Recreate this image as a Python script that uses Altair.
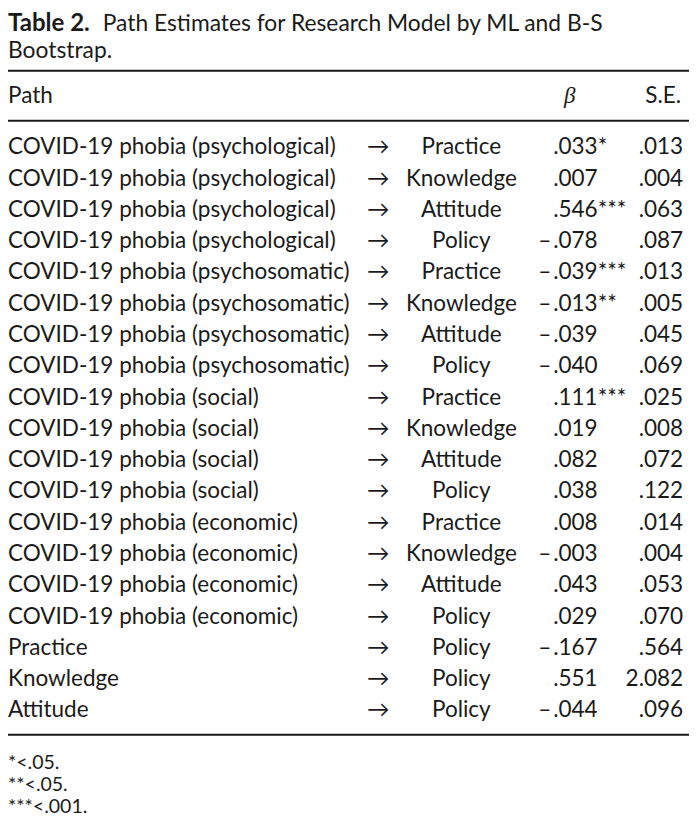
import altair as alt
import pandas as pd

# ---- data ----
sources = [
    "COVID-19 phobia (psychological)", "COVID-19 phobia (psychological)",
    "COVID-19 phobia (psychological)", "COVID-19 phobia (psychological)",
    "COVID-19 phobia (psychosomatic)", "COVID-19 phobia (psychosomatic)",
    "COVID-19 phobia (psychosomatic)", "COVID-19 phobia (psychosomatic)",
    "COVID-19 phobia (social)", "COVID-19 phobia (social)",
    "COVID-19 phobia (social)", "COVID-19 phobia (social)",
    "COVID-19 phobia (economic)", "COVID-19 phobia (economic)",
    "COVID-19 phobia (economic)", "COVID-19 phobia (economic)",
    "Practice", "Knowledge", "Attitude",
]
targets = ["Practice", "Knowledge", "Attitude", "Policy"] * 4 + ["Policy", "Policy", "Policy"]
beta_sign = ["", "", "", "–", "–", "–", "–", "–", "", "", "", "", "", "–", "", "", "–", "", "–"]
beta_abs = [".033", ".007", ".546", ".078", ".039", ".013", ".039", ".040", ".111", ".019",
            ".082", ".038", ".008", ".003", ".043", ".029", ".167", ".551", ".044"]
beta_stars = ["*", "", "***", "", "***", "**", "", "", "***", "", "", "", "", "", "", "", "", "", ""]
se = [".013", ".004", ".063", ".087", ".013", ".005", ".045", ".069", ".025", ".008",
      ".072", ".122", ".014", ".004", ".053", ".070", ".564", "2.082", ".096"]
title_bold = "Table 2."
title_rest = "Path Estimates for Research Model by ML and B-S"
title_line2 = "Bootstrap."
header = ["Path", "β", "S.E."]
footnotes = ["*<.05.", "**<.05.", "***<.001."]

# ---- layout (reference pixel space) ----
W_REF, H_REF = 697, 830
ROW0, STEP = 142, 31.9
FONT = "Lato"
FS = 22.5
INK = "#1a1a1a"

X_ARROW, X_TARGET, X_BETA, X_SE = 379, 464, 558, 691

rows = []
for i in range(len(sources)):
    y = ROW0 + i * STEP
    rows.append(dict(x=0, y=y, t=sources[i], a="left"))
    rows.append(dict(x=X_ARROW, y=y, t="→", a="center"))
    rows.append(dict(x=X_TARGET, y=y, t=targets[i], a="center"))
    rows.append(dict(x=X_BETA - 2, y=y, t=beta_sign[i], a="right"))
    rows.append(dict(x=X_BETA, y=y, t=beta_abs[i] + beta_stars[i], a="left"))
    rows.append(dict(x=X_SE, y=y, t=se[i], a="right"))
body = pd.DataFrame(rows)

xs = alt.Scale(domain=[0, W_REF])
ys = alt.Scale(domain=[0, H_REF], reverse=True)


def X(f="x"):
    return alt.X(f + ":Q", scale=xs, axis=None)


def Y(f="y"):
    return alt.Y(f + ":Q", scale=ys, axis=None)


def text_layer(df, align, **kw):
    return alt.Chart(df).mark_text(align=align, baseline="middle", font=FONT,
                                   fontSize=kw.pop("fontSize", FS), color=INK, **kw).encode(
        x=X(), y=Y(), text="t:N")


layers = []
for a in ["left", "center", "right"]:
    sub = body[body["a"] == a]
    layers.append(text_layer(sub, a))

# title
layers.append(text_layer(pd.DataFrame([dict(x=0, y=16, t=title_bold)]), "left", fontWeight="bold", fontSize=24))
layers.append(text_layer(pd.DataFrame([dict(x=97, y=16, t=title_rest)]), "left", fontSize=22.8))
layers.append(text_layer(pd.DataFrame([dict(x=0, y=44, t=title_line2)]), "left", fontSize=22.8))

# header
layers.append(text_layer(pd.DataFrame([dict(x=0, y=90, t=header[0])]), "left"))
layers.append(alt.Chart(pd.DataFrame([dict(x=575, y=90, t=header[1])])).mark_text(
    align="center", baseline="middle", font="Liberation Serif", fontStyle="italic",
    fontSize=23, color=INK).encode(x=X(), y=Y(), text="t:N"))
layers.append(text_layer(pd.DataFrame([dict(x=X_SE - 2, y=90, t=header[2])]), "right"))

# footnotes
fn = pd.DataFrame([dict(x=0, y=770 + 22.5 * i, t=f) for i, f in enumerate(footnotes)])
layers.append(text_layer(fn, "left", fontSize=19.5))

# rules
rules = pd.DataFrame(dict(y=[64, 115, 741], x=[0, 0, 0], x2=[W_REF, W_REF, W_REF]))
layers.append(alt.Chart(rules).mark_rule(color=INK, strokeWidth=2).encode(
    x=X(), x2="x2:Q", y=Y()))

chart = alt.layer(*layers).properties(
    width=681, height=814, padding=0, autosize=alt.AutoSizeParams(type="none")
).configure_view(stroke=None)

chart.save("out.html", embed_options={"renderer": "svg", "actions": False})
